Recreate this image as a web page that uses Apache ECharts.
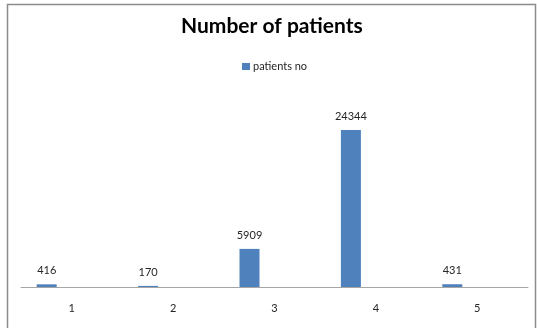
<!DOCTYPE html>
<html>
<head>
<meta charset="utf-8">
<script src="https://cdn.jsdelivr.net/npm/echarts@6/dist/echarts.min.js"></script>
<style>
html,body{margin:0;padding:0;background:#fff;}
#chart{width:537px;height:328px;}
</style>
</head>
<body>
<div id="chart"></div>
<script>
var categories = ['1', '2', '3', '4', '5'];
var patientsNo = [416, 170, 5909, 24344, 431];
var seriesName = 'patients no';
var titleText = 'Number of patients';

var chart = echarts.init(document.getElementById('chart'), null, {renderer: 'canvas'});
chart.setOption({
  animation: false,
  backgroundColor: '#ffffff',
  textStyle: {fontFamily: 'Lato'},
  graphic: [{
    type: 'rect',
    shape: {x: 7.5, y: 4.5, width: 528, height: 340},
    style: {fill: 'none', stroke: '#8c8c8c', lineWidth: 1.5},
    silent: true
  }],
  title: {
    text: titleText,
    left: 181,
    top: 16,
    padding: 0,
    textStyle: {fontFamily: 'Lato', fontWeight: 'bold', fontSize: 21, color: '#000000'}
  },
  legend: {
    data: [seriesName],
    left: 242,
    top: 61,
    padding: 0,
    itemWidth: 8,
    itemHeight: 7,
    itemGap: 4,
    textStyle: {fontFamily: 'Lato', fontSize: 11, color: '#262626', padding: [0, 0, 0, -2]},
    icon: 'rect'
  },
  grid: {left: 21, right: 9, top: 93.5, bottom: 41, containLabel: false},
  xAxis: {
    type: 'category',
    data: categories,
    axisLine: {lineStyle: {color: '#a6a6a6', width: 1}},
    axisTick: {show: false},
    axisLabel: {margin: 16, fontFamily: 'Lato', fontSize: 11, color: '#262626'}
  },
  yAxis: {
    type: 'value',
    min: 0,
    max: 30000,
    show: false,
    splitLine: {show: false}
  },
  series: [{
    name: seriesName,
    type: 'bar',
    data: patientsNo,
    barWidth: 20,
    barGap: '150%',
    itemStyle: {color: '#4f81bd'},
    label: {
      show: true,
      position: 'top',
      distance: 8,
      fontFamily: 'Lato',
      fontSize: 11,
      color: '#262626'
    }
  }, {
    name: 'blank',
    type: 'bar',
    data: [null, null, null, null, null],
    barWidth: 20,
    itemStyle: {color: '#c0504d'}
  }]
});
</script>
</body>
</html>
